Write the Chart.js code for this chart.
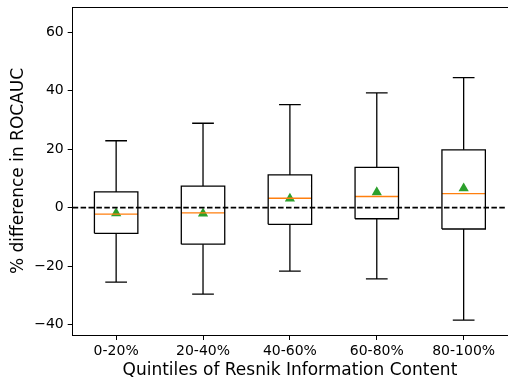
<!DOCTYPE html>
<html>
<head>
<meta charset="utf-8">
<script src="https://cdn.jsdelivr.net/npm/chart.js@4/dist/chart.umd.min.js"></script>
<style>
  html, body { margin: 0; padding: 0; background: #fff; overflow: hidden; }
  #wrap { width: 509px; height: 385px; overflow: hidden; }
</style>
</head>
<body>
<div id="wrap"><canvas id="boxChart" width="513" height="385"></canvas></div>
<script>
// Quintile box plot values
const categories = ['0-20%', '20-40%', '40-60%', '60-80%', '80-100%'];
const whiskerLow  = [-25.5, -29.6, -21.7, -24.4, -38.5];
const quart1      = [-8.8, -12.5, -5.7, -3.8, -7.3];
const medians     = [-2.2, -1.8, 3.2, 3.8, 4.8];
const quart3      = [5.4, 7.4, 11.2, 13.8, 19.8];
const whiskerHigh = [22.9, 28.9, 35.3, 39.3, 44.5];
const means       = [-1.9, -2.0, 3.1, 5.3, 6.6];
const yTicks = [-40, -20, 0, 20, 40, 60];

const BOX_HALF = 0.25, CAP_HALF = 0.125;
const GAP = { x: NaN, y: null };

function buildBoxes() {
  const pts = [];
  categories.forEach((c, i) => {
    const x = i + 1;
    pts.push({ x: x - BOX_HALF, y: quart1[i] }, { x: x + BOX_HALF, y: quart1[i] },
             { x: x + BOX_HALF, y: quart3[i] }, { x: x - BOX_HALF, y: quart3[i] },
             { x: x - BOX_HALF, y: quart1[i] }, GAP);
  });
  return pts;
}

function buildWhiskers() {
  const pts = [];
  categories.forEach((c, i) => {
    const x = i + 1;
    pts.push({ x: x, y: quart3[i] }, { x: x, y: whiskerHigh[i] }, GAP,
             { x: x - CAP_HALF, y: whiskerHigh[i] }, { x: x + CAP_HALF, y: whiskerHigh[i] }, GAP,
             { x: x, y: quart1[i] }, { x: x, y: whiskerLow[i] }, GAP,
             { x: x - CAP_HALF, y: whiskerLow[i] }, { x: x + CAP_HALF, y: whiskerLow[i] }, GAP);
  });
  return pts;
}

function buildMedians() {
  const pts = [];
  medians.forEach((m, i) => {
    pts.push({ x: i + 1 - BOX_HALF, y: m }, { x: i + 1 + BOX_HALF, y: m }, GAP);
  });
  return pts;
}

const lineSet = (data, color, width, dash) => ({
  type: 'scatter', data, showLine: true, spanGaps: false,
  borderColor: color, borderWidth: width, borderDash: dash || [],
  pointRadius: 0, fill: false
});

const font = { family: 'DejaVu Sans', size: 14 };

new Chart(document.getElementById('boxChart'), {
  type: 'scatter',
  data: {
    datasets: [
      lineSet(buildWhiskers(), '#000', 1.3),
      lineSet(buildBoxes(), '#000', 1.3),
      lineSet(buildMedians(), '#ff7f0e', 1.4),
      lineSet([{ x: 0.5, y: 0 }, { x: 5.5, y: 0 }], '#000', 1.6, [5.5, 2.4]),
      {
        type: 'scatter',
        data: means.map((m, i) => ({ x: i + 1, y: m })),
        pointStyle: 'triangle', pointRadius: 5.9,
        backgroundColor: '#2ca02c', borderColor: '#2ca02c', borderWidth: 0
      }
    ]
  },
  options: {
    responsive: false,
    animation: false,
    layout: { padding: { left: 0, right: 1.4, top: 7, bottom: 0 } },
    plugins: { legend: { display: false }, tooltip: { enabled: false } },
    scales: {
      x: {
        type: 'linear', position: 'bottom', min: 0.5, max: 5.5,
        afterBuildTicks: s => { s.ticks = categories.map((c, i) => ({ value: i + 1 })); },
        afterFit: s => { s.height = 50; s.paddingLeft = 0; s.paddingRight = 0; },
        ticks: { callback: v => categories[v - 1], color: '#000', font, padding: 3, maxRotation: 0, autoSkip: false },
        grid: { drawOnChartArea: false, drawTicks: true, tickLength: 5, color: '#000', tickWidth: 1 },
        border: { display: true, color: '#000', width: 1 },
        title: { display: true, text: 'Quintiles of Resnik Information Content', color: '#000',
                 font: { family: 'DejaVu Sans', size: 17 }, padding: { top: 4, bottom: 4 } }
      },
      x2: {
        type: 'linear', position: 'top', min: 0.5, max: 5.5,
        afterFit: s => { s.height = 0; s.paddingLeft = 0; s.paddingRight = 0; },
        ticks: { display: false },
        grid: { drawOnChartArea: false, drawTicks: false },
        border: { display: true, color: '#000', width: 1 }
      },
      y: {
        min: -43.6, max: 68.7,
        afterBuildTicks: s => { s.ticks = yTicks.map(v => ({ value: v })); },
        afterFit: s => { s.width = 72.7; s.paddingTop = 0; s.paddingBottom = 0; },
        ticks: { callback: v => v < 0 ? '\u2212' + Math.abs(v) : String(v), color: '#000', font, padding: 4 },
        grid: { drawOnChartArea: false, drawTicks: true, tickLength: 5, color: '#000', tickWidth: 1 },
        border: { display: true, color: '#000', width: 1 },
        title: { display: true, text: '% difference in ROCAUC', color: '#000',
                 font: { family: 'DejaVu Sans', size: 17 }, padding: { top: 8, bottom: 8 } }
      }
    }
  }
});
</script>
</body>
</html>
